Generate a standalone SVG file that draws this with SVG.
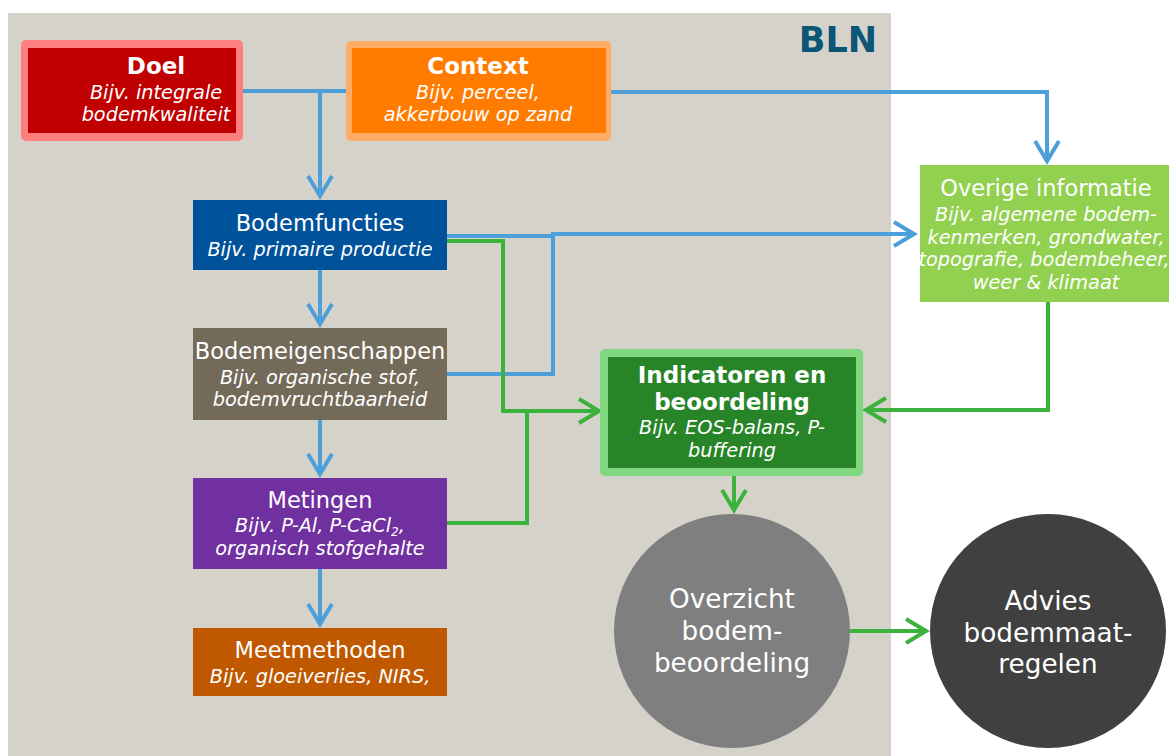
<svg xmlns="http://www.w3.org/2000/svg" width="1169" height="756" viewBox="0 0 1169 756">
<style>
.t{font-family:"DejaVu Sans",Verdana,sans-serif;fill:#fff;text-anchor:middle}
.ti{font-size:22.5px}
.tb{font-size:23px;font-weight:bold}
.st{font-size:19.3px;font-style:italic}
.ct{font-size:26.3px}
.bl{fill:none;stroke:#4d9fd9;stroke-width:4}
.gr{fill:none;stroke:#3bb23b;stroke-width:4}
</style>
<defs>
<marker id="ab" markerWidth="8" markerHeight="8" refX="6" refY="4" orient="auto" markerUnits="strokeWidth"><path d="M1,1 L6,4 L1,7" fill="none" stroke="#4d9fd9" stroke-width="1"/></marker>
<marker id="ag" markerWidth="8" markerHeight="8" refX="6" refY="4" orient="auto" markerUnits="strokeWidth"><path d="M1,1 L6,4 L1,7" fill="none" stroke="#3bb23b" stroke-width="1"/></marker>
</defs>
<rect x="0" y="0" width="1169" height="756" fill="#fff"/>
<rect x="8" y="13" width="883" height="743" fill="#d5d2ca"/>
<text x="877" y="52" font-family="DejaVu Sans,Verdana,sans-serif" font-size="35" font-weight="bold" fill="#0b5577" text-anchor="end">BLN</text>
<g id="connectors">
<path class="bl" d="M240,91 H350"/>
<path class="bl" d="M320,91 V196" marker-end="url(#ab)"/>
<path class="bl" d="M605,92 H1047 V161" marker-end="url(#ab)"/>
<path class="bl" d="M320,270 V324" marker-end="url(#ab)"/>
<path class="bl" d="M320,420 V474" marker-end="url(#ab)"/>
<path class="bl" d="M320,569 V624" marker-end="url(#ab)"/>
<path class="bl" d="M447,236 H553"/>
<path class="bl" d="M447,374 H553 V234 H914" marker-end="url(#ab)"/>
<path class="gr" d="M447,241 H503 V411 H599" marker-end="url(#ag)"/>
<path class="gr" d="M447,523 H527 V411"/>
<path class="gr" d="M1048,302 V410 H866" marker-end="url(#ag)"/>
<path class="gr" d="M734,476 V510" marker-end="url(#ag)"/>
<path class="gr" d="M850,631 H926" marker-end="url(#ag)"/>
</g>
<g id="doel">
<rect x="21" y="40" width="222" height="101" rx="5" fill="#ff7f7f"/>
<rect x="28" y="48" width="208" height="85" fill="#c00000"/>
<text class="t tb" x="156" y="74">Doel</text>
<text class="t st" x="156" y="99">Bijv. integrale</text>
<text class="t st" x="156" y="121">bodemkwaliteit</text>
</g>
<g id="context">
<rect x="346" y="41" width="265" height="100" rx="5" fill="#ffad66"/>
<rect x="352" y="48" width="254" height="85" fill="#ff7c00"/>
<text class="t tb" x="478" y="74">Context</text>
<text class="t st" x="478" y="99">Bijv. perceel,</text>
<text class="t st" x="478" y="121">akkerbouw op zand</text>
</g>
<g id="bodemfuncties">
<rect x="193" y="200" width="254" height="70" fill="#00529b"/>
<text class="t ti" x="320" y="231">Bodemfuncties</text>
<text class="t st" x="320" y="256">Bijv. primaire productie</text>
</g>
<g id="bodemeigenschappen">
<rect x="193" y="328" width="254" height="92" fill="#736a5a"/>
<text class="t ti" x="320" y="359">Bodemeigenschappen</text>
<text class="t st" x="320" y="384">Bijv. organische stof,</text>
<text class="t st" x="320" y="406">bodemvruchtbaarheid</text>
</g>
<g id="metingen">
<rect x="193" y="478" width="254" height="91" fill="#7030a0"/>
<text class="t ti" x="320" y="508">Metingen</text>
<text class="t st" x="320" y="532">Bijv. P-Al, P-CaCl<tspan font-size="12" dy="4">2</tspan><tspan dy="-4">,</tspan></text>
<text class="t st" x="320" y="555">organisch stofgehalte</text>
</g>
<g id="meetmethoden">
<rect x="193" y="628" width="254" height="68" fill="#c05800"/>
<text class="t ti" x="320" y="658">Meetmethoden</text>
<text class="t st" x="320" y="683">Bijv. gloeiverlies, NIRS,</text>
</g>
<g id="overige">
<rect x="920" y="165" width="249" height="137" fill="#92d050"/>
<text class="t ti" x="1046" y="196">Overige informatie</text>
<text class="t st" x="1046" y="221">Bijv. algemene bodem-</text>
<text class="t st" x="1046" y="244">kenmerken, grondwater,</text>
<text class="t st" x="1044" y="266" font-size="18.3">topografie, bodembeheer,</text>
<text class="t st" x="1046" y="289">weer &amp; klimaat</text>
</g>
<g id="indicatoren">
<rect x="600" y="349" width="263" height="127" rx="5" fill="#7fd87f"/>
<rect x="608" y="357" width="248" height="111" fill="#278527"/>
<text class="t tb" x="732" y="383">Indicatoren en</text>
<text class="t tb" x="732" y="410">beoordeling</text>
<text class="t st" x="732" y="434">Bijv. EOS-balans, P-</text>
<text class="t st" x="732" y="457">buffering</text>
</g>
<g id="overzicht">
<ellipse cx="732" cy="631" rx="118" ry="117" fill="#7f7f7f"/>
<text class="t ct" x="732" y="608">Overzicht</text>
<text class="t ct" x="732" y="640">bodem-</text>
<text class="t ct" x="732" y="672">beoordeling</text>
</g>
<g id="advies">
<ellipse cx="1048" cy="631" rx="118" ry="117" fill="#404040"/>
<text class="t ct" x="1048" y="610">Advies</text>
<text class="t ct" x="1048" y="642">bodemmaat-</text>
<text class="t ct" x="1048" y="673">regelen</text>
</g>
</svg>
